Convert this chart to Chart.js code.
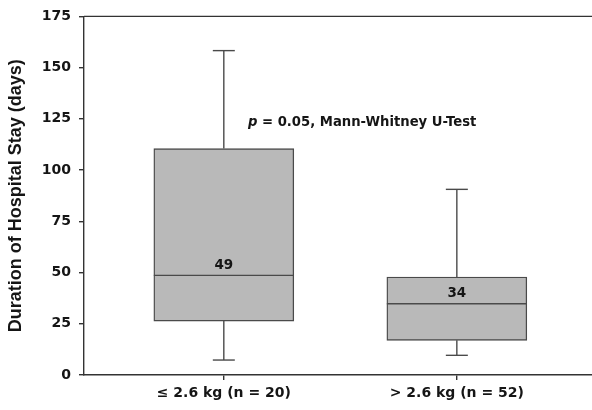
<!DOCTYPE html>
<html>
<head>
  <title>Hospital Stay Box Plot</title>
  <script src="https://cdn.jsdelivr.net/npm/chart.js"></script>
  <style>
    html, body { margin: 0; padding: 0; background: #fff; }
    #wrap { width: 592px; height: 410px; }
  </style>
</head>
<body>
  <div id="wrap"><canvas id="boxChart"></canvas></div>

  <script>
    // data
    const categories = ['\u2264 2.6 kg (n = 20)', '> 2.6 kg (n = 52)'];
    const positions = [1, 2];
    const whiskerLow = [7.3, 9.6];
    const q1 = [26.3, 16.9];
    const median = [48.6, 34.8];
    const q3 = [110.5, 47.8];
    const whiskerHigh = [158.3, 90.6];
    const medianLabels = ['49', '34'];
    const yTicks = [0, 25, 50, 75, 100, 125, 150, 175];
    const note = ['p', ' = 0.05, Mann-Whitney U-Test'];

    const FONT = "'DejaVu Sans', sans-serif";
    const LINE = '#4a4a4a';

    // whiskers, caps, medians and labels on top of the floating bars
    const boxExtras = {
      id: 'boxExtras',
      afterDatasetsDraw(chart) {
        const { ctx, scales: { x, y }, chartArea } = chart;
        ctx.save();
        ctx.strokeStyle = LINE;
        ctx.lineWidth = 1.4;
        const half = 70, cap = 11;
        positions.forEach((p, i) => {
          const cx = x.getPixelForValue(p);
          const seg = (x1, y1, x2, y2) => {
            ctx.beginPath(); ctx.moveTo(x1, y1); ctx.lineTo(x2, y2); ctx.stroke();
          };
          seg(cx, y.getPixelForValue(q3[i]), cx, y.getPixelForValue(whiskerHigh[i]));
          seg(cx, y.getPixelForValue(q1[i]), cx, y.getPixelForValue(whiskerLow[i]));
          seg(cx - cap, y.getPixelForValue(whiskerHigh[i]), cx + cap, y.getPixelForValue(whiskerHigh[i]));
          seg(cx - cap, y.getPixelForValue(whiskerLow[i]), cx + cap, y.getPixelForValue(whiskerLow[i]));
          seg(cx - half, y.getPixelForValue(median[i]), cx + half, y.getPixelForValue(median[i]));

          ctx.fillStyle = '#151515';
          ctx.font = 'bold 13.5px ' + FONT;
          ctx.textAlign = 'center';
          ctx.textBaseline = 'bottom';
          ctx.fillText(medianLabels[i], cx, y.getPixelForValue(median[i]) - 3);
        });

        // frame top line
        ctx.strokeStyle = '#333';
        ctx.lineWidth = 1.4;
        ctx.beginPath();
        ctx.moveTo(chartArea.left, chartArea.top);
        ctx.lineTo(chartArea.right, chartArea.top);
        ctx.stroke();

        // test annotation
        ctx.fillStyle = '#151515';
        ctx.textAlign = 'left';
        ctx.textBaseline = 'middle';
        const tx = 248, ty = 122.5;
        ctx.font = 'italic bold 13.2px ' + FONT;
        ctx.fillText(note[0], tx, ty);
        const w = ctx.measureText(note[0]).width;
        ctx.font = 'bold 13.2px ' + FONT;
        ctx.fillText(note[1], tx + w, ty);
        ctx.restore();
      }
    };

    const ctx = document.getElementById('boxChart').getContext('2d');
    new Chart(ctx, {
      type: 'bar',
      data: {
        datasets: [{
          data: positions.map((p, i) => ({ x: p, y: [q1[i], q3[i]] })),
          backgroundColor: '#b9b9b9',
          borderColor: LINE,
          borderWidth: 1.4,
          borderSkipped: false,
          barThickness: 140,
          grouped: false
        }]
      },
      options: {
        responsive: true,
        maintainAspectRatio: false,
        animation: false,
        layout: { padding: { top: 6, right: 0, left: 0, bottom: 0 } },
        plugins: {
          legend: { display: false },
          tooltip: { enabled: false }
        },
        scales: {
          x: {
            type: 'linear',
            offset: false,
            min: 0.4,
            max: 2.58,
            afterBuildTicks: s => { s.ticks = positions.map(v => ({ value: v })); },
            afterFit: s => { s.height = 35; },
            ticks: {
              callback: v => categories[positions.indexOf(v)] ?? '',
              color: '#151515',
              font: { family: FONT, size: 14, weight: 'bold' },
              padding: 5,
              autoSkip: false,
              maxRotation: 0
            },
            grid: { offset: false, drawOnChartArea: false, tickLength: 5, color: '#333', lineWidth: 1.4 },
            border: { color: '#333', width: 1.4 }
          },
          y: {
            min: 0,
            max: 175,
            afterBuildTicks: s => { s.ticks = yTicks.map(v => ({ value: v })); },
            afterFit: s => { s.width = 84; },
            ticks: {
              color: '#151515',
              font: { family: FONT, size: 14, weight: 'bold' },
              padding: 8
            },
            grid: { drawOnChartArea: false, tickLength: 5, color: '#333', lineWidth: 1.4 },
            border: { color: '#333', width: 1.4 },
            title: {
              display: true,
              text: 'Duration of Hospital Stay (days)',
              color: '#151515',
              font: { family: "'Liberation Sans', Arial, sans-serif", size: 18, weight: 'bold' },
              padding: { top: 5, bottom: 0 }
            }
          }
        }
      },
      plugins: [boxExtras]
    });
  </script>
</body>
</html>
